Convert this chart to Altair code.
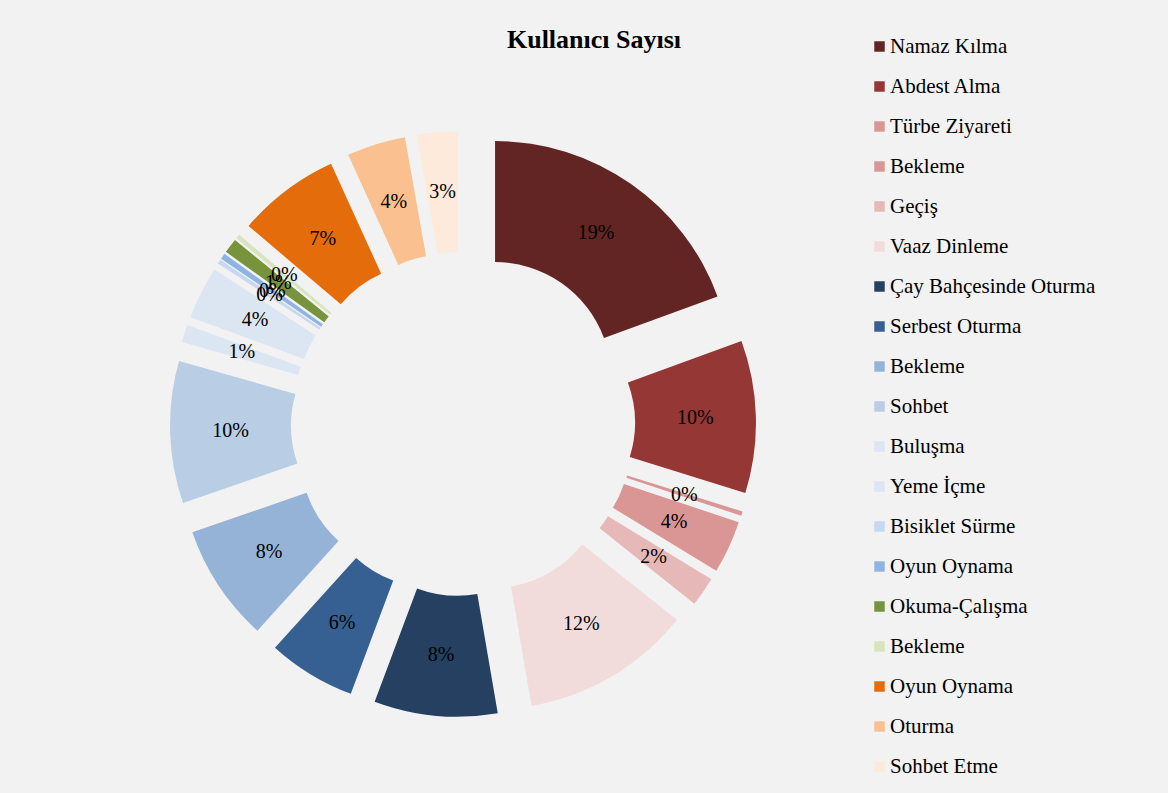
import altair as alt
import pandas as pd

categories = [
    "Namaz Kılma", "Abdest Alma", "Türbe Ziyareti", "Bekleme", "Geçiş",
    "Vaaz Dinleme", "Çay Bahçesinde Oturma", "Serbest Oturma", "Bekleme",
    "Sohbet", "Buluşma", "Yeme İçme", "Bisiklet Sürme", "Oyun Oynama",
    "Okuma-Çalışma", "Bekleme", "Oyun Oynama", "Oturma", "Sohbet Etme",
]
values = [19.4, 10.4, 0.3, 3.6, 2.0, 11.6, 8.4, 6.0, 8.0, 9.7,
          1.2, 3.6, 0.3, 0.4, 1.0, 0.3, 7.0, 4.0, 2.8]
colors = [
    "#632523", "#953735", "#D99694", "#DA9694", "#E6B9B8", "#F2DCDB",
    "#254061", "#376092", "#95B3D7", "#B9CDE5", "#DCE6F2", "#DCE6F2",
    "#C6D9F1", "#8EB4E3", "#77933C", "#D7E4BD", "#E46C0A", "#FAC090",
    "#FDEADA",
]

keys = [f"{i:02d} {c}" for i, c in enumerate(categories)]
df = pd.DataFrame({"idx": list(range(len(values))), "key": keys, "v": values})

CX, CY = 463, 424
R_OUT, R_IN = 237, 116
EXPLODE = 56
LABEL_R = EXPLODE + (R_OUT + R_IN) / 2

base = alt.Chart(df).transform_joinaggregate(
    total="sum(v)"
).transform_window(
    cum="sum(v)", sort=[alt.SortField("idx")], frame=[None, 0]
).transform_calculate(
    start="2*PI*(datum.cum - datum.v)/datum.total",
    end="2*PI*datum.cum/datum.total",
).transform_calculate(
    mid="(datum.start + datum.end)/2",
).transform_calculate(
    px=f"{CX} + {EXPLODE}*sin(datum.mid)",
    py=f"{CY} - {EXPLODE}*cos(datum.mid)",
    lx=f"{CX} + {LABEL_R}*sin(datum.mid)",
    ly=f"{CY} - {LABEL_R}*cos(datum.mid)",
    pct="format(datum.v/datum.total, '.0%')",
)

arcs = base.mark_arc(outerRadius=R_OUT, innerRadius=R_IN, stroke=None).encode(
    theta=alt.Theta("start:Q", scale=None),
    theta2="end:Q",
    x=alt.X("px:Q", scale=None, axis=None),
    y=alt.Y("py:Q", scale=None, axis=None),
    color=alt.Color(
        "key:N",
        scale=alt.Scale(domain=keys, range=colors),
        sort=keys,
        legend=alt.Legend(
            title=None,
            orient="none",
            legendX=869,
            legendY=36,
            symbolType="square",
            symbolSize=110,
            symbolStrokeWidth=0,
            labelFont="Liberation Serif",
            labelFontSize=21,
            labelColor="#000000",
            labelOffset=0,
            rowPadding=18,
            labelExpr="substring(datum.label, 3)",
            labelLimit=400,
        ),
    ),
)

labels = base.mark_text(
    font="Liberation Serif", fontSize=20, color="#000000", align="center", baseline="middle"
).encode(
    x=alt.X("lx:Q", scale=None, axis=None),
    y=alt.Y("ly:Q", scale=None, axis=None),
    text="pct:N",
)

title = alt.Chart(pd.DataFrame({"t": ["Kullanıcı Sayısı"]})).mark_text(
    font="Liberation Serif", fontSize=26, fontWeight="bold", color="#000000",
    align="center", baseline="middle",
).encode(x=alt.value(594), y=alt.value(40), text="t:N")

chart = alt.layer(arcs, labels, title).properties(
    width=1168, height=793, padding=0, autosize="none", background="#F2F2F2"
).configure_view(stroke=None)

chart.save("out.html", embed_options={"renderer": "svg", "actions": False})
